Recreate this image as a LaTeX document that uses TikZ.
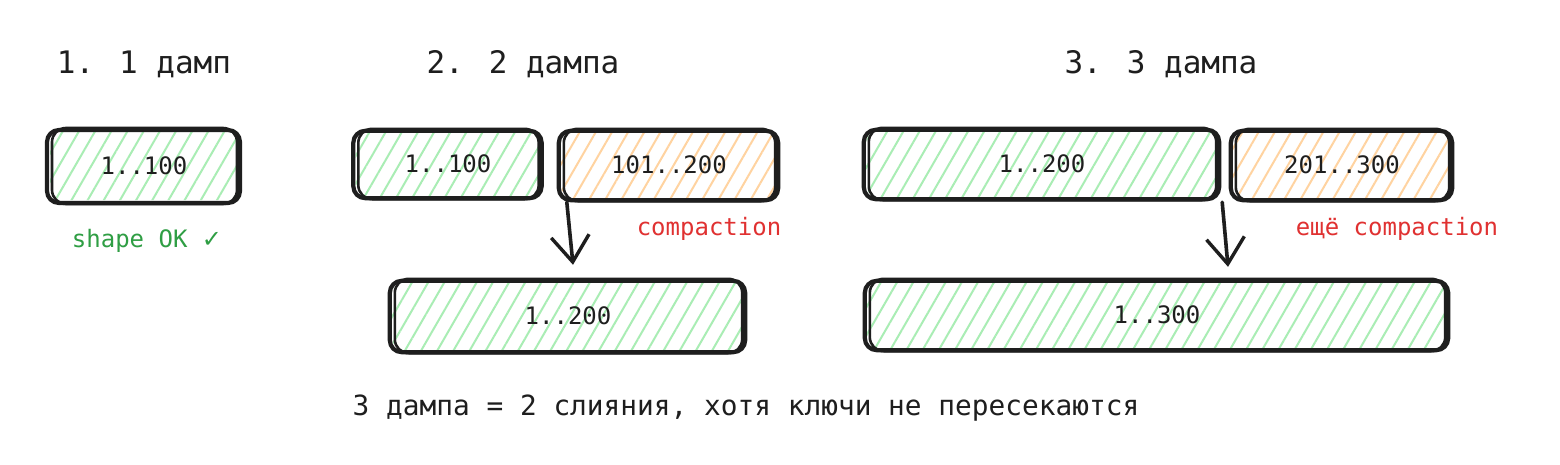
\documentclass[tikz,border=0pt]{standalone}
\usepackage{fontspec}
\newfontfamily\mono{DejaVu Sans Mono}
\newfontfamily\dvs{DejaVu Sans}
\usetikzlibrary{patterns.meta,arrows.meta}
\definecolor{ink}{HTML}{1E1E1E}
\definecolor{hgreen}{HTML}{A9EDB4}
\definecolor{horange}{HTML}{FFD3A0}
\definecolor{tred}{HTML}{E03131}
\definecolor{tgreen}{HTML}{2F9E44}
\tikzset{
  title/.style={font=\mono\fontsize{31}{36}\selectfont, text=ink},
  boxtxt/.style={font=\mono\fontsize{24}{28}\selectfont, text=ink, inner sep=0pt, rounded corners=12pt},
  gbox/.style={boxtxt, pattern={Lines[angle=60,distance=14pt,line width=2pt]}, pattern color=hgreen},
  obox/.style={boxtxt, pattern={Lines[angle=60,distance=14pt,line width=2pt]}, pattern color=horange},
  skline/.style={draw=ink, line width=4.2pt, rounded corners=12pt, line cap=round, line join=round},
  skthin/.style={draw=ink, line width=2.6pt, rounded corners=14pt, line cap=round, line join=round},
  note/.style={font=\mono\fontsize{24}{28}\selectfont},
  sumtxt/.style={font=\mono\fontsize{27.8}{32}\selectfont, text=ink},
  arr/.style={draw=ink, line width=3.6pt, line cap=round,
    -{Straight Barb[length=26pt,width=38pt,line width=3.4pt]}}
}
\newcommand\skbox[1]{%
  \draw[skline] ([shift={(-2,-1)}]#1.north west) rectangle ([shift={(1,2)}]#1.south east);
  \draw[skthin] ([shift={(3,-3)}]#1.north west) rectangle ([shift={(-2,3)}]#1.south east);
}
\begin{document}
\begin{tikzpicture}[x=1pt,y=-1pt]
\useasboundingbox[fill=white] (0,0) rectangle (1560,464);

% column 1
\node[title] (t1) at (144,64) {1. 1 дамп};
\node[gbox, minimum width=188pt, minimum height=68pt] (a) at (144,166) {1..100};
\skbox{a}
\node[note, text=tgreen] (ok) at (147,241) {shape OK {\dvs ✓}};

% column 2
\node[title] (t2) at (523,64) {2. 2 дампа};
\node[gbox, minimum width=185pt, minimum height=64pt] (b) at (448,164) {1..100};
\skbox{b}
\node[obox, minimum width=216pt, minimum height=66pt] (c) at (669,165) {101..200};
\skbox{c}
\node[note, text=tred] (cmp1) at (709,229) {compaction};
\node[gbox, minimum width=352pt, minimum height=68pt] (d) at (568,316) {1..200};
\skbox{d}
\draw[arr] ([shift={(6,4)}]c.south west) -- ([shift={(5,-17)}]d.north);

% column 3
\node[title] (t3) at (1161,64) {3. 3 дампа};
\node[gbox, minimum width=352pt, minimum height=66pt] (e) at (1042,164) {1..200};
\skbox{e}
\node[obox, minimum width=218pt, minimum height=66pt] (f) at (1342,165) {201..300};
\skbox{f}
\node[note, text=tred] (cmp2) at (1397,229) {ещё compaction};
\node[gbox, minimum width=580pt, minimum height=66pt] (g) at (1157,315) {1..300};
\skbox{g}
\draw[arr] ([shift={(4,5)}]e.south east) -- ([shift={(71,-15)}]g.north);

% summary
\node[sumtxt] (sum) at (746,408) {3 дампа = 2 слияния, хотя ключи не пересекаются};
\end{tikzpicture}
\end{document}
